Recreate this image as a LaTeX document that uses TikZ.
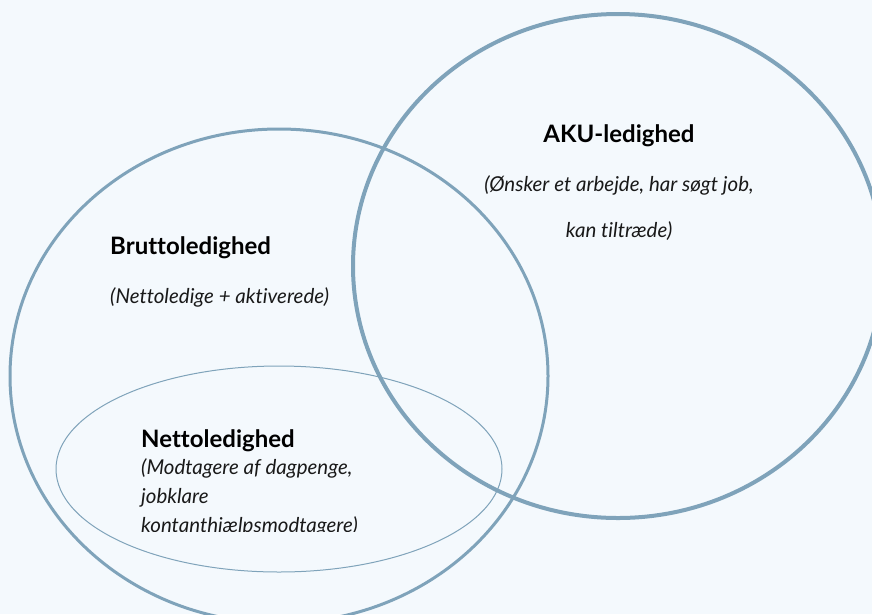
\documentclass[tikz,border=0pt]{standalone}
\usepackage{fontspec}
\setmainfont{Lato}[Ligatures={NoCommon}]
\definecolor{bg}{HTML}{F4F9FD}
\definecolor{ring}{HTML}{7FA3BA}
\begin{document}
\begin{tikzpicture}[x=1pt,y=-1pt,
  title/.style={font=\fontsize{24}{28}\selectfont\bfseries, text=black, inner sep=0pt},
  sub/.style={font=\fontsize{20.5}{24}\selectfont\itshape, text=black!90, inner sep=0pt}]
\fill[bg] (0,0) rectangle (872,614);
\useasboundingbox (0,0) rectangle (872,614);
\begin{scope}
\clip (0,0) rectangle (872,614);
\draw[ring, line width=3pt] (279,376) ellipse [x radius=269, y radius=247];
\draw[ring, line width=4pt] (618,266) ellipse [x radius=265, y radius=252];
\draw[ring, line width=1pt] (279,469) ellipse [x radius=223, y radius=103];
\end{scope}
\node[title, anchor=base] (aku) at (619,142) {AKU-ledighed};
\node[sub, anchor=base] (aku1) at (619,191) {(Ønsker et arbejde, har søgt job,};
\node[sub, anchor=base] (aku2) at (619,237) {kan tiltræde)};
\node[title, anchor=base west] (brutto) at (110,254) {Bruttoledighed};
\node[sub, anchor=base west] (brutto1) at (110,303) {(Nettoledige + aktiverede)};
\node[title, anchor=base west] (netto) at (141,447) {Nettoledighed};
\node[sub, anchor=base west] (netto1) at (141,474) {(Modtagere af dagpenge,};
\node[sub, anchor=base west] (netto2) at (141,503) {jobklare};
\begin{scope}
\clip (100,505) rectangle (500,531);
\node[sub, anchor=base west] (netto3) at (141,532) {kontanthjælpsmodtagere)};
\end{scope}
\end{tikzpicture}
\end{document}
